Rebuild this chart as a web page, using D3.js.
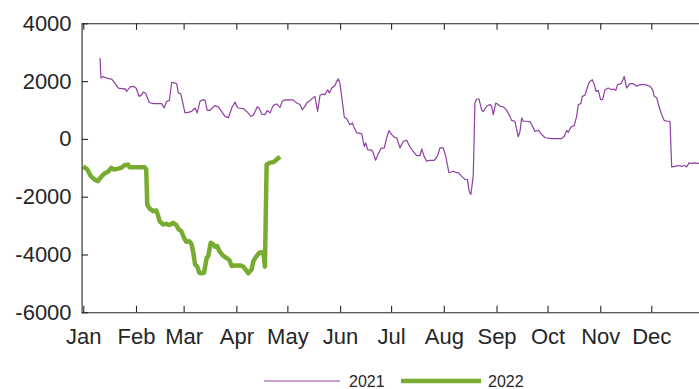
<!DOCTYPE html>
<html>
<head>
<meta charset="utf-8">
<script src="https://cdn.jsdelivr.net/npm/d3@7"></script>
<style>
  html, body { margin: 0; padding: 0; background: #fff; }
  svg { display: block; }
  text { font-family: "Liberation Sans", Arial, Helvetica, sans-serif; fill: #262626; }
</style>
</head>
<body>
<svg id="chart" width="699" height="389"></svg>
<script>
// ---- data (day of year, value) ----
const monthLabels = ["Jan","Feb","Mar","Apr","May","Jun","Jul","Aug","Sep","Oct","Nov","Dec"];
const monthStartDays = [0,31,59,90,120,151,181,212,243,273,304,334];
const yTicks = [-6000,-4000,-2000,0,2000,4000];
const seriesNames = ["2021","2022"];

const days2021 = [9.8,10.4,11.8,13.2,15.7,16.7,18.6,20.6,23.5,24.5,25.5,27.5,29.4,31.0,32.9,34.3,35.3,36.7,38.8,41.2,46.1,47.5,49.0,50.6,52.0,53.9,54.9,55.9,57.3,59.8,61.7,63.7,65.7,67.0,68.6,70.6,71.6,72.9,74.5,77.4,79.4,83.3,85.3,87.3,89.2,90.2,91.1,94.1,96.1,98.6,100.0,102.3,103.5,104.9,106.8,108.2,109.8,111.7,113.7,115.7,117.0,118.6,123.5,125.5,127.4,128.8,130.4,131.4,132.7,133.9,135.2,136.2,137.8,139.2,141.1,142.1,143.7,144.7,146.1,148.0,149.0,149.9,150.9,152.3,153.5,154.9,156.2,156.8,158.2,159.4,160.8,163.7,165.2,166.1,167.2,169.6,170.5,171.9,173.5,175.1,177.0,178.4,179.8,181.3,183.3,184.3,186.2,188.2,190.2,192.1,194.0,196.0,198.0,199.0,200.5,201.9,203.9,206.4,208.4,209.7,211.7,213.1,215.0,217.6,219.6,220.5,222.1,224.4,225.9,226.9,227.9,229.3,230.3,231.3,232.7,234.3,235.2,237.2,239.1,240.1,241.1,242.5,244.0,245.0,247.0,249.0,250.9,251.9,253.8,255.8,256.8,257.8,258.7,260.7,262.7,263.7,265.6,267.6,269.1,271.5,275.4,281.3,282.8,284.3,285.2,286.8,288.7,290.1,291.1,292.6,293.4,295.0,296.0,297.3,298.0,299.3,300.5,301.5,302.8,304.2,305.4,306.8,308.7,310.7,311.6,313.1,314.2,316.2,316.9,318.1,319.5,321.5,323.4,325.4,327.4,330.3,333.3,334.8,335.8,337.2,338.5,340.1,341.6,343.1,345.0,346.0,347.9,349.9,351.9,353.8,354.8,356.2,357.7,359.7,361.6,364.0];
const values2021 = [2800,2110,2160,2110,2080,2070,1930,1760,1730,1740,1640,1800,1820,1760,1470,1530,1620,1570,1260,1220,1220,1070,1300,1330,1960,1930,1910,1590,1570,900,920,950,1070,900,1300,1360,1330,990,990,1150,1110,780,730,1070,1280,1130,1070,1050,950,780,820,1110,1050,860,840,980,900,1160,1210,1090,1300,1350,1350,1240,1190,1010,1130,1240,1300,1360,1420,1470,950,1510,1550,1530,1700,1590,1760,1850,1990,2080,1930,1300,750,700,550,490,550,380,210,180,-260,-140,-370,-390,-480,-740,-510,-330,-310,40,290,150,40,40,-310,-80,-50,-280,-430,-580,-580,-350,-620,-770,-740,-740,-580,-310,-310,-600,-1170,-1120,-1170,-1170,-1270,-1400,-1410,-1810,-1920,-1290,1240,1380,1380,990,950,1130,1190,1130,840,1240,1190,1130,1110,990,780,640,610,70,260,730,610,610,590,490,260,300,180,40,10,10,90,290,230,410,460,780,1190,1220,1470,1510,1700,1930,1990,2050,1880,1640,1680,1360,1360,1700,1760,1700,1730,1680,1880,1910,1990,2160,1760,1910,1910,1820,1880,1880,1820,1700,1470,1420,1130,840,640,610,610,-970,-950,-920,-950,-920,-970,-830,-850,-830,-850,-840];

const days2022 = [0,2.4,4.4,6.7,8.6,10.2,12.2,14.5,16.5,18.1,20.4,22.3,24.3,26.3,27.3,30.2,36.1,37.0,37.6,39.0,41.0,42.9,43.9,44.9,46.9,48.8,50.8,52.7,54.7,56.1,57.6,59.2,60.6,62.3,63.7,64.7,65.7,67.0,68.2,69.0,71.0,72.6,73.5,74.9,76.4,77.4,78.8,80.0,82.0,83.9,85.9,87.3,89.2,92.1,94.1,95.7,97.0,99.0,100.0,101.6,103.5,104.9,105.8,106.8,107.8,109.4,111.4,112.7,114.1,115.7];
const values2022 = [-950,-1060,-1290,-1410,-1460,-1330,-1210,-1140,-1000,-1060,-1030,-1000,-910,-890,-980,-980,-980,-1060,-2270,-2410,-2500,-2480,-2640,-2850,-2960,-2940,-2980,-2900,-2980,-3130,-3190,-3420,-3560,-3540,-3650,-3940,-4340,-4420,-4630,-4650,-4630,-4110,-4060,-3590,-3650,-3730,-3710,-3880,-4030,-4110,-4190,-4400,-4380,-4380,-4420,-4540,-4650,-4520,-4230,-4080,-3940,-3920,-3920,-4420,-890,-830,-810,-770,-690,-620];

// ---- layout ----
const svg = d3.select("#chart");
const axisColor = "#262626";
const colors = ["#8E3FA3", "#77AC30"];
const widths = [1.2, 4.5];

const x = d3.scaleLinear().domain([-1, 365]).range([81.6, 704]);
const y = d3.scaleLinear().domain([-6000, 4000]).range([312.3, 23.3]);

// lines
const line = d3.line().x(d => x(d[0])).y(d => y(d[1])).curve(d3.curveLinear);
const s2021 = days2021.map((d, i) => [d, values2021[i]]);
const s2022 = days2022.map((d, i) => [d, values2022[i]]);
[s2021, s2022].forEach((s, i) => {
  svg.append("path").datum(s)
    .attr("d", line)
    .attr("fill", "none")
    .attr("stroke", colors[i])
    .attr("stroke-width", widths[i])
    .attr("stroke-linejoin", "round")
    .attr("stroke-linecap", "butt");
});

// axes
function styleAxis(g) {
  g.selectAll("path.domain").attr("stroke", axisColor).attr("stroke-width", 1.1);
  g.selectAll(".tick line").attr("stroke", axisColor).attr("stroke-width", 1.1);
  g.selectAll(".tick text").attr("fill", axisColor)
    .style("font-family", '"Liberation Sans", Arial, sans-serif');
}

const xAxis = d3.axisBottom(x).tickValues(monthStartDays)
  .tickFormat((d, i) => monthLabels[i]).tickSizeInner(-6.5).tickSizeOuter(0).tickPadding(16);
svg.append("g").attr("transform", `translate(0,${y(-6000)})`).call(xAxis)
  .call(styleAxis).call(g => g.selectAll(".tick text").style("font-size", "22px"));

const xTop = d3.axisTop(x).tickValues(monthStartDays).tickFormat("")
  .tickSizeInner(-6.5).tickSizeOuter(0);
svg.append("g").attr("transform", `translate(0,${y(4000)})`).call(xTop).call(styleAxis);

const yAxis = d3.axisLeft(y).tickValues(yTicks).tickFormat(d => String(d))
  .tickSizeInner(-6.5).tickSizeOuter(0).tickPadding(10);
svg.append("g").attr("transform", `translate(${x(-1)},0)`).call(yAxis)
  .call(styleAxis).call(g => g.selectAll(".tick text").style("font-size", "22px"));

// legend
const legendX = [264, 401];
const legend = svg.append("g");
seriesNames.forEach((name, i) => {
  legend.append("line")
    .attr("x1", legendX[i]).attr("x2", legendX[i] + (i === 0 ? 76 : 80))
    .attr("y1", 381).attr("y2", 381)
    .attr("stroke", colors[i]).attr("stroke-width", widths[i]);
  legend.append("text")
    .attr("x", legendX[i] + (i === 0 ? 85 : 87)).attr("y", 387)
    .style("font-size", "16px")
    .text(name);
});
</script>
</body>
</html>
